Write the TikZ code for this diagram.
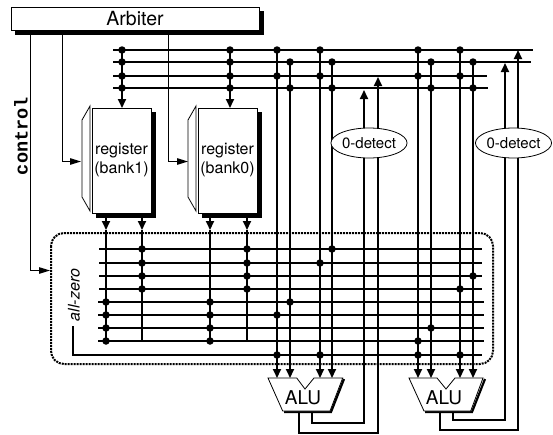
\documentclass[tikz,border=0pt]{standalone}
\usepackage{fontspec}
\setmainfont{TeX Gyre Heros}
\setmonofont{Liberation Mono}
\usetikzlibrary{arrows.meta,shapes.geometric,shadows}

\begin{document}
\begin{tikzpicture}[x=1pt,y=-1pt]
\useasboundingbox (0,0) rectangle (553,434);

% 1. Koordinaten
% top buses
\coordinate (t1) at (113,50);
\coordinate (t2) at (113,62);
\coordinate (t3) at (113,76);
\coordinate (t4) at (113,88);
\coordinate (t1e) at (533,50);
\coordinate (t2e) at (531,62);
\coordinate (t3e) at (487,76);
\coordinate (t4e) at (488,88);

% lower buses
\coordinate (g1) at (99,249);
\coordinate (g2) at (99,263);
\coordinate (g3) at (99,276);
\coordinate (g4) at (99,289);
\coordinate (g5) at (98,302);
\coordinate (g6) at (98,315);
\coordinate (g7) at (98,328);
\coordinate (g8) at (98,341);
\coordinate (g9) at (73,355);
\coordinate (g9s) at (73,326);
\coordinate (g1e) at (482,249);
\coordinate (g2e) at (482,263);
\coordinate (g3e) at (482,276);
\coordinate (g4e) at (482,289);
\coordinate (g5e) at (484,302);
\coordinate (g6e) at (484,315);
\coordinate (g7e) at (484,328);
\coordinate (g8e) at (484,341);
\coordinate (g9e) at (482,355);

% ALU inputs
\coordinate (v1) at (277,50);
\coordinate (v2) at (290,62);
\coordinate (v3) at (320,50);
\coordinate (v4) at (332,62);
\coordinate (v5) at (418,50);
\coordinate (v6) at (431,62);
\coordinate (v7) at (460,50);
\coordinate (v8) at (473,62);
\coordinate (v1e) at (277,378);
\coordinate (v2e) at (290,378);
\coordinate (v3e) at (320,378);
\coordinate (v4e) at (332,378);
\coordinate (v5e) at (418,378);
\coordinate (v6e) at (431,378);
\coordinate (v7e) at (460,378);
\coordinate (v8e) at (473,378);

% ALU outputs
\coordinate (o1) at (299,411);
\coordinate (o1b) at (299,433);
\coordinate (o1c) at (378,433);
\coordinate (o1e) at (378,77);
\coordinate (o2) at (312,411);
\coordinate (o2b) at (312,423);
\coordinate (o2c) at (364,423);
\coordinate (o2e) at (364,90);
\coordinate (o3) at (440,411);
\coordinate (o3b) at (440,430);
\coordinate (o3c) at (518,430);
\coordinate (o3e) at (518,50);
\coordinate (o4) at (453,411);
\coordinate (o4b) at (453,420);
\coordinate (o4c) at (505,420);
\coordinate (o4e) at (505,63);

% register ports
\coordinate (w1) at (122,50);
\coordinate (w1e) at (122,108);
\coordinate (w2) at (230,50);
\coordinate (w2e) at (230,108);
\coordinate (r1) at (106,213);
\coordinate (r1m) at (106,230);
\coordinate (r1e) at (106,341);
\coordinate (r2) at (142,213);
\coordinate (r2m) at (142,230);
\coordinate (r2e) at (142,341);
\coordinate (r3) at (210,213);
\coordinate (r3m) at (210,230);
\coordinate (r3e) at (210,341);
\coordinate (r4) at (247,213);
\coordinate (r4m) at (247,230);
\coordinate (r4e) at (247,341);

% control lines
\coordinate (c1) at (30.5,30);
\coordinate (c1b) at (30.5,270.5);
\coordinate (c1e) at (50,270.5);
\coordinate (c2) at (62.5,30);
\coordinate (c2b) at (62.5,161.5);
\coordinate (c2e) at (81,161.5);
\coordinate (c3) at (168.5,30);
\coordinate (c3b) at (168.5,161.5);
\coordinate (c3e) at (188,161.5);

% 2. Stile
\tikzset{
  bus/.style={
    color=black,
    line width=2pt
  },
  bus tip/.style={
    bus,
    -{Triangle[length=9pt,width=8pt]}
  },
  ctrl/.style={
    color=black,
    line width=1pt,
    -{Triangle[length=11pt,width=6.5pt]}
  },
  dot/.style={
    circle,
    fill=black,
    inner sep=0pt,
    minimum size=7.5pt
  },
  shadow box/.style={
    draw,
    fill=white,
    line width=1pt,
    align=center,
    copy shadow={
      shadow xshift=4pt,
      shadow yshift=-4pt,
      fill=black,
      draw=black
    }
  },
  register/.style={
    shadow box,
    minimum width=59pt,
    minimum height=105pt,
    inner sep=0pt,
    font=\fontsize{16}{19}\selectfont
  },
  port/.style={
    draw=black,
    fill=white,
    line width=0.8pt
  },
  alu/.style={
    draw=black,
    fill=white,
    line width=0.8pt
  },
  alu edge/.style={
    draw=black,
    line width=2.2pt
  },
  detect/.style={
    draw,
    ellipse,
    fill=white,
    line width=0.8pt,
    inner sep=0pt,
    minimum width=68pt,
    minimum height=30pt,
    font=\fontsize{15}{16}\selectfont
  }
}

% 3. Gepunkteter Kasten
\draw [line width=2pt, dash pattern=on 2pt off 1pt, rounded corners=13pt] (51,233) rectangle (493,364);

% 4. Steuerleitungen
\draw [ctrl] (c1) -- (c1b) -- (c1e);
\draw [ctrl] (c2) -- (c2b) -- (c2e);
\draw [ctrl] (c3) -- (c3b) -- (c3e);

% 5. Busse
\draw [bus] (t1) -- (t1e);
\draw [bus] (t2) -- (t2e);
\draw [bus] (t3) -- (t3e);
\draw [bus] (t4) -- (t4e);
\draw [bus] (g1) -- (g1e);
\draw [bus] (g2) -- (g2e);
\draw [bus] (g3) -- (g3e);
\draw [bus] (g4) -- (g4e);
\draw [bus] (g5) -- (g5e);
\draw [bus] (g6) -- (g6e);
\draw [bus] (g7) -- (g7e);
\draw [bus] (g8) -- (g8e);
\draw [bus] (g9s) -- (g9) -- (g9e);

% 6. Senkrechte Leitungen
\draw [bus tip] (w1) -- (w1e);
\draw [bus tip] (w2) -- (w2e);
\draw [bus tip] (r1) -- (r1m);
\draw [bus tip] (r2) -- (r2m);
\draw [bus tip] (r3) -- (r3m);
\draw [bus tip] (r4) -- (r4m);
\draw [bus] (r1m) -- (r1e);
\draw [bus] (r2m) -- (r2e);
\draw [bus] (r3m) -- (r3e);
\draw [bus] (r4m) -- (r4e);
\draw [bus tip] (v1) -- (v1e);
\draw [bus tip] (v2) -- (v2e);
\draw [bus tip] (v3) -- (v3e);
\draw [bus tip] (v4) -- (v4e);
\draw [bus tip] (v5) -- (v5e);
\draw [bus tip] (v6) -- (v6e);
\draw [bus tip] (v7) -- (v7e);
\draw [bus tip] (v8) -- (v8e);
\draw [bus tip] (o1) -- (o1b) -- (o1c) -- (o1e);
\draw [bus tip] (o2) -- (o2b) -- (o2c) -- (o2e);
\draw [bus tip] (o3) -- (o3b) -- (o3c) -- (o3e);
\draw [bus tip] (o4) -- (o4b) -- (o4c) -- (o4e);

% 7. Knoten
\node [shadow box, minimum width=248pt, minimum height=23pt, inner sep=0pt, font=\fontsize{19.5}{20}\selectfont] (arbiter) at (135,18.5) {Arbiter};

\draw [port] (82,120) -- (90,106) -- (90,211) -- (82,197) -- cycle;
\draw [port] (188,120) -- (196,106) -- (196,211) -- (188,197) -- cycle;
\node [register] (bank1) at (121.5,160.5) {register\\(bank1)};
\node [register] (bank0) at (227.5,160.5) {register\\(bank0)};

\node [detect] (detect0) at (369,143) {0-detect};
\node [detect] (detect1) at (513.5,143) {0-detect};

\path [alu edge] (284,412) -- (331,412) -- (344,379);
\path [alu edge] (425,412) -- (472,412) -- (485,379);
\draw [alu] (268,378) -- (296.7,378) -- (305,389) -- (314,378) -- (342.7,378) -- (330,411) -- (282.7,411) -- cycle;
\draw [alu] (409,378) -- (437,378) -- (446,389) -- (455,378) -- (483,378) -- (470.7,411) -- (424,411) -- cycle;
\node [font=\fontsize{19}{20}\selectfont] (alu0) at (303,398) {ALU};
\node [font=\fontsize{19}{20}\selectfont] (alu1) at (444,398) {ALU};

\node [rotate=90, font=\fontsize{18.6}{20}\selectfont\ttfamily\bfseries] (control) at (21,136) {control};
\node [rotate=90, font=\fontsize{16}{18}\selectfont\itshape] (allzero) at (74,295) {all-zero};

% 8. Punkte
\node [dot] (a1) at (w1 |- t1) {};
\node [dot] (a2) at (w1 |- t2) {};
\node [dot] (a3) at (w1 |- t3) {};
\node [dot] (a4) at (w1 |- t4) {};
\node [dot] (a5) at (w2 |- t1) {};
\node [dot] (a6) at (w2 |- t2) {};
\node [dot] (a7) at (w2 |- t3) {};
\node [dot] (a8) at (w2 |- t4) {};
\node [dot] (a9) at (v1 |- t1) {};
\node [dot] (a10) at (v1 |- t3) {};
\node [dot] (a11) at (v2 |- t2) {};
\node [dot] (a12) at (v2 |- t4) {};
\node [dot] (a13) at (v3 |- t1) {};
\node [dot] (a14) at (v3 |- t3) {};
\node [dot] (a15) at (v4 |- t2) {};
\node [dot] (a16) at (v4 |- t4) {};
\node [dot] (a17) at (v5 |- t1) {};
\node [dot] (a18) at (v5 |- t3) {};
\node [dot] (a19) at (v6 |- t2) {};
\node [dot] (a20) at (v6 |- t4) {};
\node [dot] (a21) at (v7 |- t1) {};
\node [dot] (a22) at (v7 |- t3) {};
\node [dot] (a23) at (v8 |- t2) {};
\node [dot] (a24) at (v8 |- t4) {};

\node [dot] (b1) at (r1 |- g5) {};
\node [dot] (b2) at (r1 |- g6) {};
\node [dot] (b3) at (r1 |- g7) {};
\node [dot] (b4) at (r1 |- g8) {};
\node [dot] (b5) at (r2 |- g1) {};
\node [dot] (b6) at (r2 |- g2) {};
\node [dot] (b7) at (r2 |- g3) {};
\node [dot] (b8) at (r2 |- g4) {};
\node [dot] (b9) at (r3 |- g5) {};
\node [dot] (b10) at (r3 |- g6) {};
\node [dot] (b11) at (r3 |- g7) {};
\node [dot] (b12) at (r3 |- g8) {};
\node [dot] (b13) at (r4 |- g1) {};
\node [dot] (b14) at (r4 |- g2) {};
\node [dot] (b15) at (r4 |- g3) {};
\node [dot] (b16) at (r4 |- g4) {};

\node [dot] (b17) at (v1 |- g6) {};
\node [dot] (b18) at (v1 |- g9) {};
\node [dot] (b19) at (v2 |- g5) {};
\node [dot] (b20) at (v3 |- g2) {};
\node [dot] (b21) at (v3 |- g9) {};
\node [dot] (b22) at (v4 |- g1) {};
\node [dot] (b23) at (v5 |- g8) {};
\node [dot] (b24) at (v5 |- g9) {};
\node [dot] (b25) at (v6 |- g7) {};
\node [dot] (b26) at (v7 |- g4) {};
\node [dot] (b27) at (v7 |- g9) {};
\node [dot] (b28) at (v8 |- g3) {};

\end{tikzpicture}
\end{document}
